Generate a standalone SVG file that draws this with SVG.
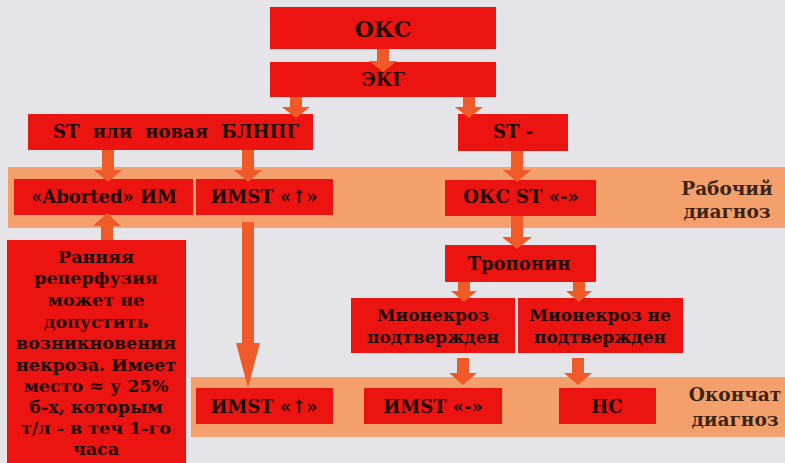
<svg xmlns="http://www.w3.org/2000/svg" width="785" height="463" viewBox="0 0 785 463">
<style>
.bg{fill:#e5e5e9}
.band{fill:#f4a06c}
.box{fill:#ec1410}
.arr{fill:#f05a28}
text{font-family:"DejaVu Serif","Liberation Serif",serif;font-weight:bold;fill:#220806;text-anchor:middle}
.t18{font-size:18px}
.t17{font-size:17px}
.tn{font-size:17.5px}
.lbl{font-size:18.5px;fill:#3a2414}
</style>
<rect class="bg" x="0" y="0" width="785" height="463"/>
<g id="band-work"><rect class="band" x="8" y="167" width="777" height="61"/>
<text class="lbl" x="727" y="195">Рабочий</text><text class="lbl" x="727" y="218">диагноз</text></g>
<g id="band-final"><rect class="band" x="191" y="377" width="594" height="60"/>
<text class="lbl" x="735" y="401">Окончат</text><text class="lbl" x="735" y="426">диагноз</text></g>

<g id="n-oks"><rect class="box" x="270" y="7" width="226" height="42"/><text x="383" y="37" style="font-size:22px">ОКС</text></g>
<g id="n-ekg"><rect class="box" x="270" y="62" width="226" height="35"/><text class="t18" x="383" y="86">ЭКГ</text></g>
<g id="n-st-up"><rect class="box" x="28" y="114" width="285" height="36"/><text class="t18" x="176" y="138" word-spacing="7">ST или новая БЛНПГ</text></g>
<g id="n-st-minus"><rect class="box" x="458" y="114" width="110" height="37"/><text class="t18" x="513" y="138">ST -</text></g>
<g id="n-aborted"><rect class="box" x="14" y="179" width="179" height="36"/><text class="t18" x="104" y="203">«Aborted» ИМ</text></g>
<g id="n-imst-up-1"><rect class="box" x="196" y="179" width="137" height="36"/><text class="t18" x="264" y="203">ИМST «↑»</text></g>
<g id="n-oks-st"><rect class="box" x="445" y="180" width="151" height="36"/><text class="t18" x="521" y="203">ОКС ST «-»</text></g>
<g id="n-note"><rect class="box" x="7" y="240" width="179" height="223"/>
<text class="tn" x="96" y="263">Ранняя</text>
<text class="tn" x="96" y="284">реперфузия</text>
<text class="tn" x="96" y="306">может не</text>
<text class="tn" x="96" y="328">допустить</text>
<text class="tn" x="96" y="349">возникновения</text>
<text class="tn" x="96" y="371">некроза. Имеет</text>
<text class="tn" x="96" y="392">место ≈ у 25%</text>
<text class="tn" x="96" y="413">б-х, которым</text>
<text class="tn" x="96" y="434">т/л - в теч 1-го</text>
<text class="tn" x="96" y="455">часа</text></g>
<g id="n-troponin"><rect class="box" x="445" y="245" width="151" height="37"/><text class="t18" x="519" y="270">Тропонин</text></g>
<g id="n-mio-yes"><rect class="box" x="351" y="298" width="164" height="55"/><text class="t17" x="433" y="321">Мионекроз</text><text class="t17" x="433" y="343">подтвержден</text></g>
<g id="n-mio-no"><rect class="box" x="518" y="298" width="165" height="55"/><text class="t17" x="600" y="321">Мионекроз не</text><text class="t17" x="600" y="343">подтвержден</text></g>
<g id="n-imst-up-2"><rect class="box" x="196" y="388" width="137" height="36"/><text class="t18" x="264" y="413">ИМST «↑»</text></g>
<g id="n-imst-minus"><rect class="box" x="364" y="388" width="138" height="36"/><text class="t18" x="433" y="413">ИМST «-»</text></g>
<g id="n-ns"><rect class="box" x="559" y="388" width="97" height="36"/><text class="t18" x="607" y="413">НС</text></g>

<g id="connectors">
<polygon class="arr" points="377,49 389,49 389,61 397,61 383,72 369,61 377,61"/>
<polygon class="arr" points="290,97 302,97 302,107 310,107 296,118 282,107 290,107"/>
<polygon class="arr" points="463,97 475,97 475,107 483,107 469,118 455,107 463,107"/>
<polygon class="arr" points="102,150 114,150 114,170 122,170 108,182 94,170 102,170"/>
<polygon class="arr" points="242,150 254,150 254,170 262,170 248,182 234,170 242,170"/>
<polygon class="arr" points="511,151 523,151 523,170 531,170 517,182 503,170 511,170"/>
<polygon class="arr" points="101,240 113,240 113,226 121,226 107,213 93,226 101,226"/>
<polygon class="arr" points="242,222 254,222 254,343 260,343 248,388 236,343 242,343"/>
<polygon class="arr" points="511,216 523,216 523,237 532,237 517,249 502,237 511,237"/>
<polygon class="arr" points="458,282 470,282 470,291 477,291 464,302 451,291 458,291"/>
<polygon class="arr" points="573,282 585,282 585,291 592,291 579,302 566,291 573,291"/>
<polygon class="arr" points="457,358 469,358 469,373 477,373 463,385 449,373 457,373"/>
<polygon class="arr" points="572,358 584,358 584,373 592,373 578,385 564,373 572,373"/>
</g>
</svg>
